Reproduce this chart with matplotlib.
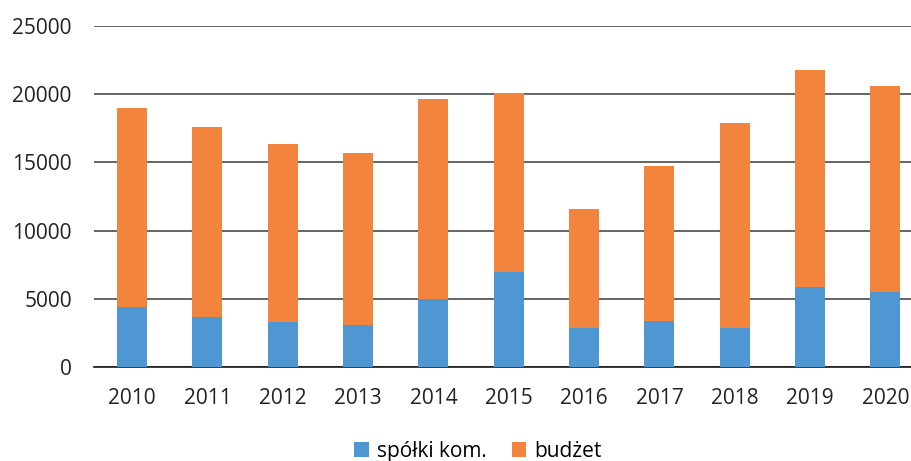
"""Wykres słupkowy skumulowany: spółki kom. + budżet, 2010-2020."""

import matplotlib
matplotlib.use("Agg")
import matplotlib.pyplot as plt
import numpy as np

years = ["2010", "2011", "2012", "2013", "2014", "2015",
         "2016", "2017", "2018", "2019", "2020"]
totals = [19000, 17600, 16350, 15700, 19600, 20100,
          11550, 14700, 17900, 21750, 20600]
spolki = [4380, 3640, 3270, 3050, 4980, 6980,
          2830, 3390, 2880, 5860, 5470]
budzet = [t - s for t, s in zip(totals, spolki)]

BLUE = "#4f97d2"
ORANGE = "#f2843e"

plt.rcParams["font.family"] = ["Open Sans", "DejaVu Sans"]
plt.rcParams["font.size"] = 15

fig = plt.figure(figsize=(9.11, 4.61), dpi=100)
ax = fig.add_axes([94 / 911, 94 / 461, 1 - 94 / 911, 341.25 / 461])

x = np.arange(len(years))
ax.bar(x, spolki, width=0.4, color=BLUE, label="spółki kom.", zorder=3)
ax.bar(x, budzet, width=0.4, bottom=spolki, color=ORANGE, label="budżet", zorder=3)

ax.set_ylim(0, 25000)
ax.set_xlim(-0.505, 10.34)
ax.set_yticks(range(0, 25001, 5000))
ax.set_xticks(x)
ax.set_xticklabels(years)
ax.yaxis.grid(True, color="#3a3a3a", linewidth=1.1, zorder=0)
ax.xaxis.grid(False)
for s in ["top", "right", "left"]:
    ax.spines[s].set_visible(False)
ax.spines["bottom"].set_color("#1a1a1a")
ax.spines["bottom"].set_linewidth(1.2)
ax.tick_params(axis="both", length=0, colors="#222222", labelsize=15)
ax.tick_params(axis="y", pad=16)
ax.tick_params(axis="x", pad=15)

fig.legend(loc="center", bbox_to_anchor=(478 / 911, 1 - 451 / 461), ncol=2,
           frameon=False, handlelength=0.7, handleheight=0.7,
           handletextpad=0.4, columnspacing=1.2, fontsize=15)

fig.savefig("out.png", dpi=100)
